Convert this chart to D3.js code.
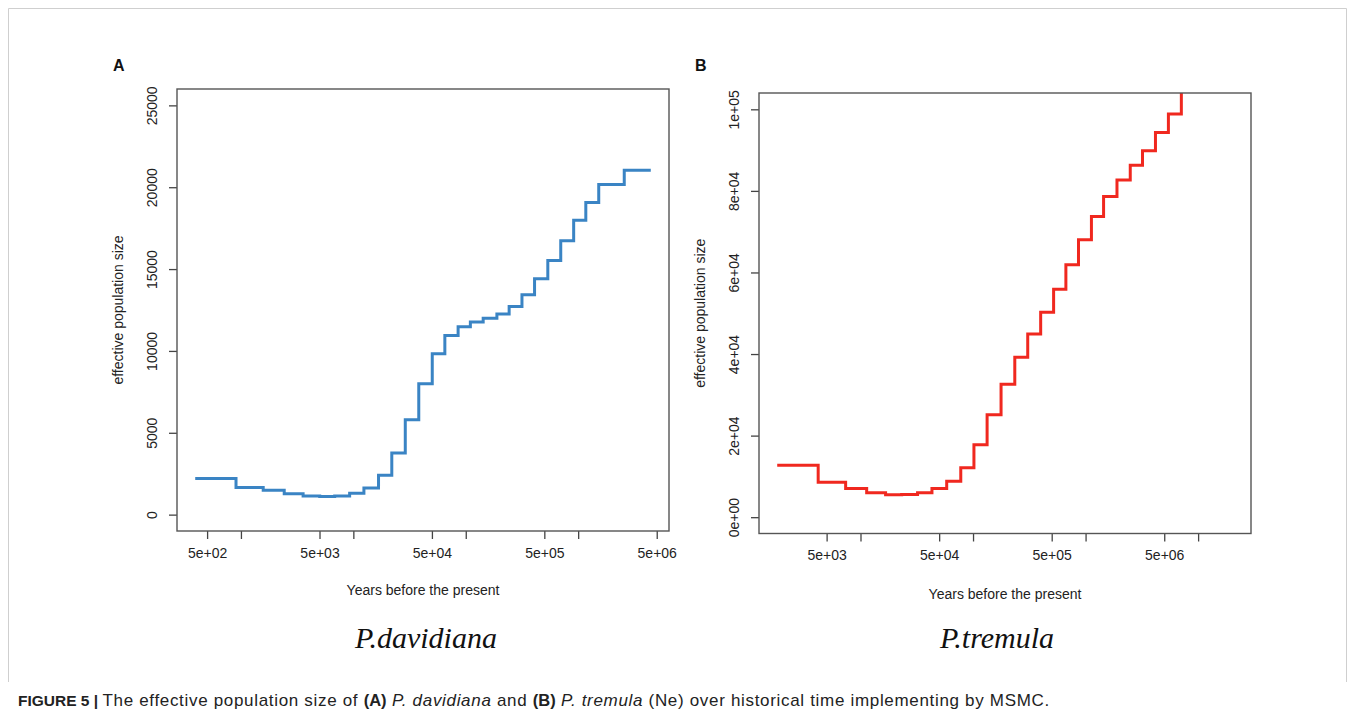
<!DOCTYPE html>
<html>
<head>
<meta charset="utf-8">
<script src="https://cdn.jsdelivr.net/npm/d3@7/dist/d3.min.js"></script>
<style>
  html, body { margin: 0; padding: 0; background: #fff; }
  svg { display: block; }
</style>
</head>
<body>
<svg id="chart" width="1355" height="716"></svg>
<script>
// ---------------- DATA ----------------
// Panel A: P. davidiana — interval start times (years) and Ne for each interval
const timesA = [392, 904, 1578, 2427, 3573, 5023, 6823, 9268, 12417, 16749, 21979, 28973,
  38194, 50350, 65163, 85507, 109900, 142889, 189234, 243220, 316228, 409261, 537032,
  699842, 912011, 1169499, 1524053, 2570396, 4425884];
const neA = [2200, 1650, 1490, 1270, 1140, 1100, 1140, 1310, 1630, 2410, 3770, 5790, 8000,
  9820, 10940, 11480, 11770, 11990, 12250, 12710, 13430, 14410, 15530, 16730, 17980,
  19070, 20170, 21040];

// Panel B: P. tremula
const timesB = [1820, 4207, 7379, 11350, 16711, 23227, 32137, 43152, 58345, 77804, 101859,
  133352, 177419, 234963, 306196, 399025, 519996, 668344, 864968, 1127197, 1445440,
  1901078, 2494595, 3206269, 4178303, 5445026, 7095778, 20323570];
const neB = [12750, 8580, 7030, 5980, 5490, 5560, 5980, 7030, 8820, 12110, 17750, 25130,
  32580, 39230, 44920, 50270, 55870, 61910, 68040, 73730, 78640, 82670, 86260, 89850,
  94310, 98870, 105000];

// Axis ticks and labels
const xTicksA = [500, 1000, 5000, 10000, 50000, 100000, 500000, 1000000, 5000000];
const xLabelsA = ["5e+02", "", "5e+03", "", "5e+04", "", "5e+05", "", "5e+06"];
const yTicksA = [0, 5000, 10000, 15000, 20000, 25000];
const yLabelsA = ["0", "5000", "10000", "15000", "20000", "25000"];
const yLimA = [0, 25000];

const xTicksB = [5000, 10000, 50000, 100000, 500000, 1000000, 5000000, 10000000];
const xLabelsB = ["5e+03", "", "5e+04", "", "5e+05", "", "5e+06", ""];
const yTicksB = [0, 20000, 40000, 60000, 80000, 100000];
const yLabelsB = ["0e+00", "2e+04", "4e+04", "6e+04", "8e+04", "1e+05"];
const yLimB = [0, 100000];

const panelLetters = ["A", "B"];
const speciesNames = ["P.davidiana", "P.tremula"];
const xTitle = "Years before the present";
const yTitle = "effective population size";

// ---------------- DRAWING ----------------
const svg = d3.select("#chart");
const SANS = "'Liberation Sans', Arial, Helvetica, sans-serif";
const SERIF = "'Liberation Serif', 'Times New Roman', serif";

// Figure frame
svg.append("path")
  .attr("d", "M8.5,682 V8.5 H1346.5 V682")
  .attr("fill", "none").attr("stroke", "#cfcfcf").attr("stroke-width", 1);

function drawPanel(cfg) {
  const { box, times, ne, xTicks, xLabels, yTicks, yLabels, yLim, color, letter, species, id } = cfg;
  const g = svg.append("g");

  // R-style 4% padding
  const lx0 = Math.log10(times[0]), lx1 = Math.log10(times[times.length - 1]);
  const px = (lx1 - lx0) * 0.04;
  const x = d3.scaleLog()
    .domain([Math.pow(10, lx0 - px), Math.pow(10, lx1 + px)])
    .range([box.x0, box.x1]);
  const py = (yLim[1] - yLim[0]) * 0.04;
  const y = d3.scaleLinear()
    .domain([yLim[0] - py, yLim[1] + py])
    .range([box.y1, box.y0]);

  // clip
  svg.append("clipPath").attr("id", "clip" + id)
    .append("rect").attr("x", box.x0).attr("y", box.y0)
    .attr("width", box.x1 - box.x0).attr("height", box.y1 - box.y0);

  // step line
  const pts = ne.map((v, i) => [times[i], v]);
  pts.push([times[times.length - 1], ne[ne.length - 1]]);
  const line = d3.line().x(d => x(d[0])).y(d => y(d[1])).curve(d3.curveStepAfter);
  g.append("path")
    .attr("clip-path", `url(#clip${id})`)
    .attr("d", line(pts))
    .attr("fill", "none").attr("stroke", color)
    .attr("stroke-width", 3).attr("stroke-linejoin", "miter").attr("stroke-linecap", "butt");

  // x axis
  const xAxis = d3.axisBottom(x).tickValues(xTicks)
    .tickFormat((d, i) => xLabels[i]).tickSize(8).tickPadding(9);
  const gx = g.append("g").attr("transform", `translate(0,${box.y1})`).call(xAxis);
  gx.select(".domain").remove();
  gx.selectAll(".tick line").attr("stroke", "#444").attr("stroke-width", 1.3);
  gx.selectAll(".tick text").attr("font-family", SANS).attr("font-size", 14).attr("fill", "#222");

  // y axis (rotated labels, R-style)
  const yAxis = d3.axisLeft(y).tickValues(yTicks)
    .tickFormat((d, i) => yLabels[i]).tickSize(8).tickPadding(0);
  const gy = g.append("g").attr("transform", `translate(${box.x0},0)`).call(yAxis);
  gy.select(".domain").remove();
  gy.selectAll(".tick line").attr("stroke", "#444").attr("stroke-width", 1.3);
  gy.selectAll(".tick text")
    .attr("font-family", SANS).attr("font-size", 14).attr("fill", "#222")
    .attr("x", 0).attr("dy", 0)
    .attr("text-anchor", "middle")
    .attr("transform", `translate(${box.labX - box.x0},0) rotate(-90)`)
    .attr("dominant-baseline", "central");

  // box
  g.append("rect").attr("x", box.x0).attr("y", box.y0)
    .attr("width", box.x1 - box.x0).attr("height", box.y1 - box.y0)
    .attr("fill", "none").attr("stroke", "#555").attr("stroke-width", 1.4);

  // titles
  g.append("text").attr("x", (box.x0 + box.x1) / 2).attr("y", box.xTitleY)
    .attr("text-anchor", "middle").attr("font-family", SANS).attr("font-size", 14)
    .attr("fill", "#222").text(xTitle);
  g.append("text")
    .attr("transform", `translate(${box.yTitleX},${(box.y0 + box.y1) / 2}) rotate(-90)`)
    .attr("text-anchor", "middle").attr("dominant-baseline", "central")
    .attr("font-family", SANS).attr("font-size", 14).attr("fill", "#222").text(yTitle);

  // panel letter
  g.append("text").attr("x", box.letterX).attr("y", box.letterY)
    .attr("font-family", SANS).attr("font-weight", "bold").attr("font-size", 16)
    .attr("fill", "#111").text(letter);

  // species name
  g.append("text").attr("x", box.speciesX).attr("y", 648)
    .attr("text-anchor", "middle").attr("font-family", SERIF).attr("font-style", "italic")
    .attr("font-size", 30).attr("fill", "#111").text(species);
}

drawPanel({
  id: "A",
  box: { x0: 177, x1: 669, y0: 89, y1: 531, labX: 152, yTitleX: 118, xTitleY: 595,
         letterX: 113, letterY: 71, speciesX: 426 },
  times: timesA, ne: neA, xTicks: xTicksA, xLabels: xLabelsA,
  yTicks: yTicksA, yLabels: yLabelsA, yLim: yLimA,
  color: "#3a84c4", letter: panelLetters[0], species: speciesNames[0]
});

drawPanel({
  id: "B",
  box: { x0: 759, x1: 1251, y0: 93, y1: 533.5, labX: 734, yTitleX: 700, xTitleY: 599,
         letterX: 695, letterY: 71, speciesX: 997 },
  times: timesB, ne: neB, xTicks: xTicksB, xLabels: xLabelsB,
  yTicks: yTicksB, yLabels: yLabelsB, yLim: yLimB,
  color: "#f0281f", letter: panelLetters[1], species: speciesNames[1]
});

// Caption
const cap = svg.append("text").attr("x", 18).attr("y", 706)
  .attr("font-family", SANS).attr("font-size", 15.5).attr("fill", "#222");
const parts = [
  ["FIGURE 5 | ", "bold", "normal", 15.5],
  ["The effective population size of ", "normal", "normal", 17],
  ["(A)", "bold", "normal", 16.5],
  [" ", "normal", "normal", 17],
  ["P. davidiana", "normal", "italic", 17],
  [" and ", "normal", "normal", 17],
  ["(B)", "bold", "normal", 16.5],
  [" ", "normal", "normal", 17],
  ["P. tremula", "normal", "italic", 17],
  [" (Ne) over historical time implementing by MSMC.", "normal", "normal", 17]
];
const spans = parts.map(p => cap.append("tspan").attr("font-weight", p[1]).attr("font-style", p[2])
  .attr("font-size", p[3])
  .attr("xml:space", "preserve").text(p[0]));
// widen the regular-weight text so the caption spans the same width as the original
const targetWidth = 1050 - 18;
const current = cap.node().getComputedTextLength();
let normalChars = 0;
parts.forEach(p => { if (p[1] === "normal") normalChars += p[0].length; });
const ls = Math.max(0, (targetWidth - current) / normalChars);
spans.forEach((s, i) => { if (parts[i][1] === "normal") s.attr("letter-spacing", ls.toFixed(2)); });
</script>
</body>
</html>
